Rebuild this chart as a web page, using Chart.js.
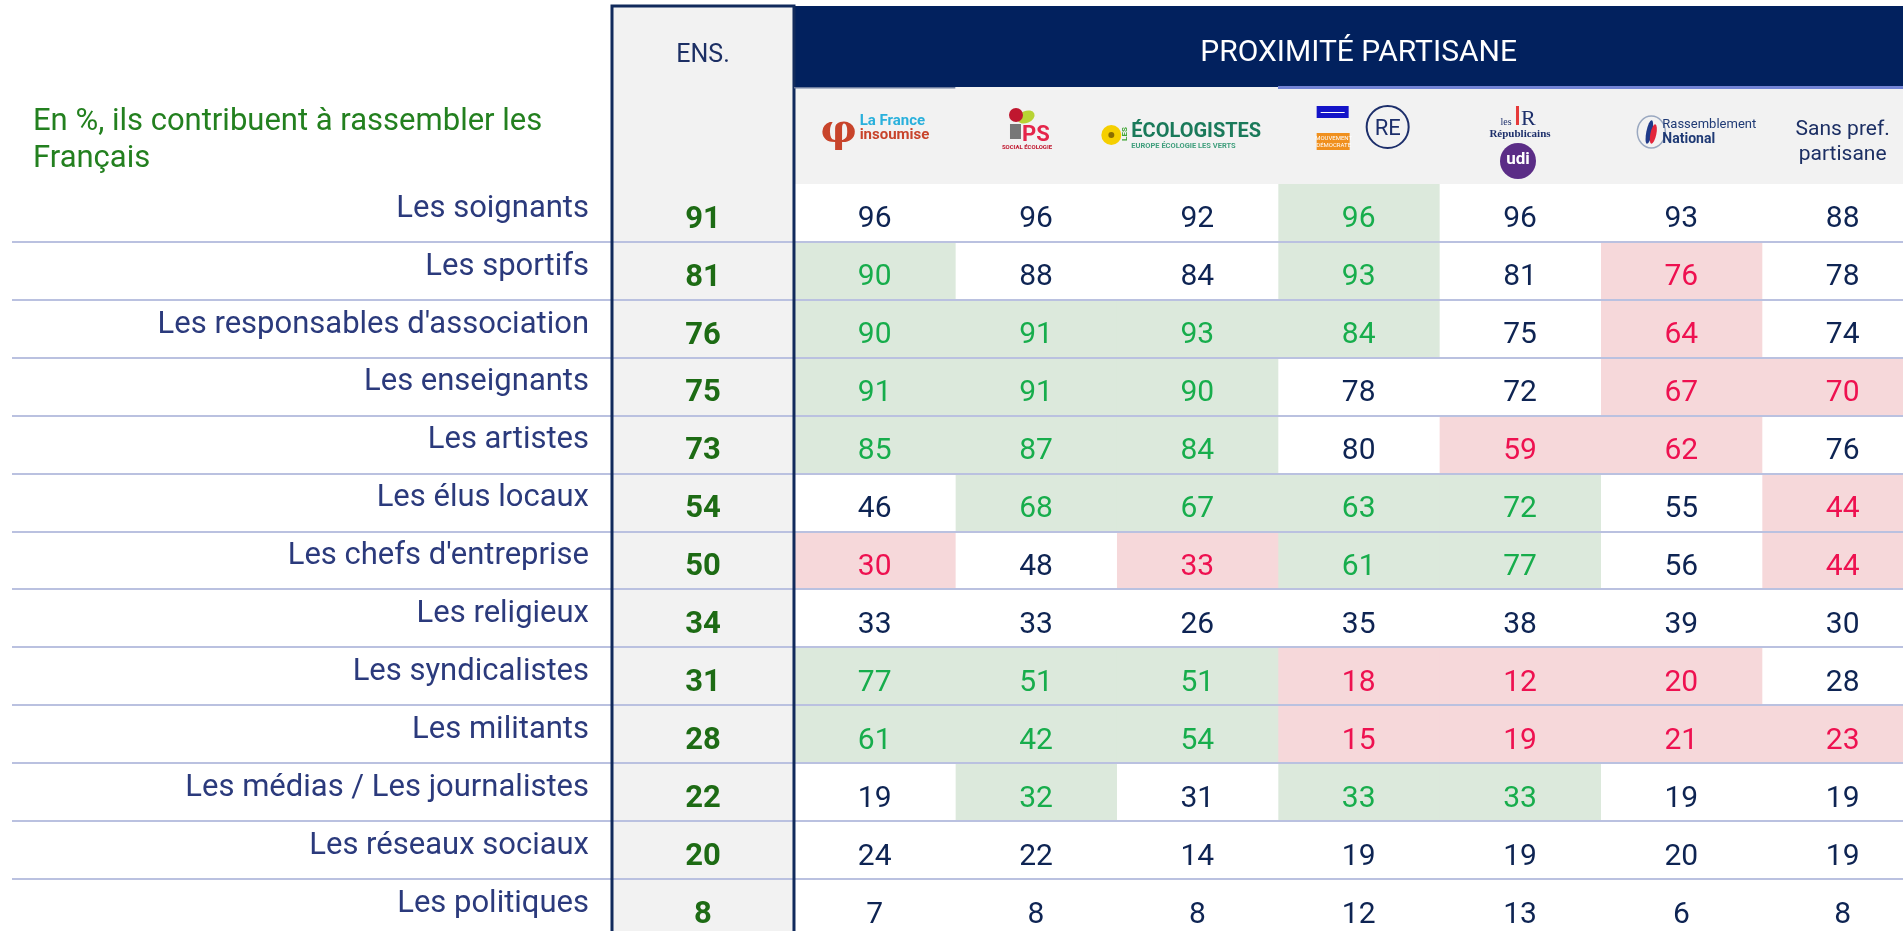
<!DOCTYPE html>
<html>
<head>
<meta charset="utf-8">
<script src="https://cdn.jsdelivr.net/npm/chart.js@4.4.1/dist/chart.umd.min.js"></script>
<style>
  html, body { margin: 0; padding: 0; background: #fff; overflow: hidden; }
  #wrap { width: 1903px; height: 931px; overflow: hidden; }
</style>
</head>
<body>
<div id="wrap"><canvas id="table" width="1903" height="937"></canvas></div>
<script>
// rows of the table
const rows = [
  "Les soignants", "Les sportifs", "Les responsables d'association", "Les enseignants",
  "Les artistes", "Les élus locaux", "Les chefs d'entreprise", "Les religieux",
  "Les syndicalistes", "Les militants", "Les médias / Les journalistes",
  "Les réseaux sociaux", "Les politiques"
];
// ENS. column
const ensemble = [91, 81, 76, 75, 73, 54, 50, 34, 31, 28, 22, 20, 8];
// party columns
const parties = ["La France insoumise", "PS", "Les Écologistes", "Ensemble",
  "LR / UDI", "Rassemblement National", "Sans pref. partisane"];
const scores = [
  [96, 96, 92, 96, 96, 93, 88],
  [90, 88, 84, 93, 81, 76, 78],
  [90, 91, 93, 84, 75, 64, 74],
  [91, 91, 90, 78, 72, 67, 70],
  [85, 87, 84, 80, 59, 62, 76],
  [46, 68, 67, 63, 72, 55, 44],
  [30, 48, 33, 61, 77, 56, 44],
  [33, 33, 26, 35, 38, 39, 30],
  [77, 51, 51, 18, 12, 20, 28],
  [61, 42, 54, 15, 19, 21, 23],
  [19, 32, 31, 33, 33, 19, 19],
  [24, 22, 14, 19, 19, 20, 19],
  [7, 8, 8, 12, 13, 6, 8]
];
// 1 = significantly above the average, -1 = below, 0 = no difference
const signif = [
  [0, 0, 0, 1, 0, 0, 0],
  [1, 0, 0, 1, 0, -1, 0],
  [1, 1, 1, 1, 0, -1, 0],
  [1, 1, 1, 0, 0, -1, -1],
  [1, 1, 1, 0, -1, -1, 0],
  [0, 1, 1, 1, 1, 0, -1],
  [-1, 0, -1, 1, 1, 0, -1],
  [0, 0, 0, 0, 0, 0, 0],
  [1, 1, 1, -1, -1, -1, 0],
  [1, 1, 1, -1, -1, -1, -1],
  [0, 1, 0, 1, 1, 0, 0],
  [0, 0, 0, 0, 0, 0, 0],
  [0, 0, 0, 0, 0, 0, 0]
];
const title = ["En %, ils contribuent à rassembler les", "Français"];

const FONT = "Roboto, 'Noto Sans', sans-serif";
const NAVY = "#02215e";
const GREEN_BG = "#dce9dc", GREEN_TXT = "#17ad4c";
const RED_BG = "#f6d8da", RED_TXT = "#ee1150";
const ENS_W = 1.128;   // the ENS. column is a bit wider than a party column
const X_MAX = 6.874;   // last column is cut by the page edge

function cellBg(r, c) {
  const s = signif[r][c];
  return s > 0 ? GREEN_BG : s < 0 ? RED_BG : "#ffffff";
}
function cellTxt(r, c) {
  const s = signif[r][c];
  return s > 0 ? GREEN_TXT : s < 0 ? RED_TXT : "#0e2453";
}

const datasets = [{
  label: "ENS.",
  data: rows.map(() => [-ENS_W, 0]),
  backgroundColor: "#f2f2f2"
}];
parties.forEach((p, c) => {
  datasets.push({
    label: p,
    data: rows.map(() => [c, c + 1]),
    backgroundColor: (ctx) => cellBg(ctx.dataIndex, c)
  });
});

function text(ctx, str, x, y, font, color, align, base) {
  ctx.font = font;
  ctx.fillStyle = color;
  ctx.textAlign = align || "center";
  ctx.textBaseline = base || "alphabetic";
  ctx.fillText(str, x, y);
}

// rough drawings of the party logos
function drawLogo(ctx, c, cx) {
  ctx.save();
  if (c === 0) {
    text(ctx, "φ", cx - 36, 142, "bold 40px 'DejaVu Serif', serif", "#c8442b");
    text(ctx, "La France", cx - 15, 125, "bold 15px " + FONT, "#29b0dc", "left");
    text(ctx, "insoumise", cx - 15, 139, "bold 15px " + FONT, "#c8442b", "left");
  } else if (c === 1) {
    ctx.fillStyle = "#b8d334";
    ctx.beginPath(); ctx.ellipse(cx - 10, 117, 9, 6, -0.4, 0, Math.PI * 2); ctx.fill();
    ctx.fillStyle = "#c0172f";
    ctx.beginPath(); ctx.arc(cx - 20, 115, 7, 0, Math.PI * 2); ctx.fill();
    ctx.fillStyle = "#777";
    ctx.fillRect(cx - 26, 124, 11, 15);
    text(ctx, "PS", cx - 14, 141, "bold 22px " + FONT, "#e5254a", "left");
    text(ctx, "SOCIAL ÉCOLOGIE", cx - 9, 149, "bold 6px " + FONT, "#c0172f");
  } else if (c === 2) {
    ctx.fillStyle = "#f5cf00";
    ctx.beginPath(); ctx.arc(cx - 86, 135, 10, 0, Math.PI * 2); ctx.fill();
    ctx.fillStyle = "#8a6d00";
    ctx.beginPath(); ctx.arc(cx - 86, 135, 3, 0, Math.PI * 2); ctx.fill();
    ctx.save();
    ctx.translate(cx - 70, 134);
    ctx.rotate(-Math.PI / 2);
    text(ctx, "LES", 0, 0, "bold 8px " + FONT, "#3fa535");
    ctx.restore();
    text(ctx, "ÉCOLOGISTES", cx - 66, 137, "bold 20px " + FONT, "#1a7a5a", "left");
    text(ctx, "EUROPE ÉCOLOGIE LES VERTS", cx - 66, 148, "bold 7.5px " + FONT, "#3f9e7c", "left");
  } else if (c === 3) {
    ctx.fillStyle = "#1414c8";
    ctx.fillRect(cx - 42, 106, 32, 12);
    ctx.fillStyle = "#fff";
    ctx.fillRect(cx - 38, 112, 24, 1);
    ctx.fillStyle = "#f0901e";
    ctx.fillRect(cx - 42, 133, 33, 17);
    text(ctx, "MOUVEMENT", cx - 25, 140, "6px " + FONT, "#fff");
    text(ctx, "DÉMOCRATE", cx - 25, 147, "6px " + FONT, "#fff");
    ctx.strokeStyle = "#1d2f6b";
    ctx.lineWidth = 2;
    ctx.beginPath(); ctx.arc(cx + 29, 127, 21, 0, Math.PI * 2); ctx.stroke();
    text(ctx, "RE", cx + 29, 135, "22px " + FONT, "#1d2f6b");
  } else if (c === 4) {
    text(ctx, "les", cx - 14, 125, "10px 'Liberation Serif', serif", "#1d2f6b");
    ctx.fillStyle = "#e63a3a";
    ctx.fillRect(cx - 4, 106, 3, 19);
    text(ctx, "R", cx + 1, 125, "22px 'Liberation Serif', serif", "#1d2f6b", "left");
    text(ctx, "Républicains", cx, 137, "bold 11px 'Liberation Serif', serif", "#1d2f6b");
    ctx.fillStyle = "#5b2d86";
    ctx.beginPath(); ctx.arc(cx - 2, 161, 18, 0, Math.PI * 2); ctx.fill();
    text(ctx, "udi", cx - 2, 164, "bold 17px " + FONT, "#fff");
  } else if (c === 5) {
    ctx.strokeStyle = "#9aa8c0";
    ctx.lineWidth = 1.5;
    ctx.beginPath(); ctx.ellipse(cx - 30, 132, 14, 16, 0, 0, Math.PI * 2); ctx.stroke();
    ctx.fillStyle = "#1f3a8a";
    ctx.beginPath(); ctx.ellipse(cx - 32, 132, 3, 12, 0.2, 0, Math.PI * 2); ctx.fill();
    ctx.fillStyle = "#e3263b";
    ctx.beginPath(); ctx.ellipse(cx - 28, 134, 3, 10, 0.2, 0, Math.PI * 2); ctx.fill();
    text(ctx, "Rassemblement", cx - 19, 128, "13px " + FONT, "#1f3a75", "left");
    text(ctx, "National", cx - 19, 143, "bold 14px " + FONT, "#1f3a75", "left");
  } else {
    text(ctx, "Sans pref.", cx, 135, "21px " + FONT, "#1c2f64");
    text(ctx, "partisane", cx, 160, "21px " + FONT, "#1c2f64");
  }
  ctx.restore();
}

const tablePlugin = {
  id: "tableDecor",
  beforeDatasetsDraw(chart) {
    const ctx = chart.ctx;
    const x = chart.scales.x;
    const ensL = x.getPixelForValue(-ENS_W), ensR = x.getPixelForValue(0);
    const top = chart.chartArea.top;
    ctx.save();
    ctx.fillStyle = "#f2f2f2";
    ctx.fillRect(ensL, 6, ensR - ensL, top - 6);
    ctx.fillStyle = NAVY;
    ctx.fillRect(ensR, 6, chart.width - ensR, 81);
    ctx.fillStyle = "#f2f2f2";
    ctx.fillRect(ensR, 87, chart.width - ensR, top - 87);
    ctx.restore();
  },
  afterDatasetsDraw(chart) {
    const ctx = chart.ctx;
    const x = chart.scales.x, y = chart.scales.y;
    ctx.save();

    // row separators
    ctx.strokeStyle = "#bac1e0";
    ctx.lineWidth = 2;
    for (let i = 0; i < rows.length - 1; i++) {
      const yy = Math.round((y.getPixelForValue(i) + y.getPixelForValue(i + 1)) / 2);
      ctx.beginPath();
      ctx.moveTo(12, yy);
      ctx.lineTo(chart.width, yy);
      ctx.stroke();
    }

    // cell values
    chart.data.datasets.forEach((ds, d) => {
      chart.getDatasetMeta(d).data.forEach((bar, i) => {
        const p = bar.getCenterPoint();
        if (d === 0) {
          text(ctx, String(ensemble[i]), p.x, p.y + 7, "bold 31px " + FONT, "#1d6b14", "center", "middle");
        } else {
          text(ctx, String(scores[i][d - 1]), p.x, p.y + 7, "30px " + FONT, cellTxt(i, d - 1), "center", "middle");
        }
      });
    });

    // ENS. column frame
    const ensL = x.getPixelForValue(-ENS_W), ensR = x.getPixelForValue(0);
    ctx.strokeStyle = "#112a5c";
    ctx.lineWidth = 3;
    ctx.beginPath();
    ctx.moveTo(ensL, chart.height);
    ctx.lineTo(ensL, 6);
    ctx.lineTo(ensR, 6);
    ctx.lineTo(ensR, chart.height);
    ctx.stroke();

    // thin lines under the header band
    ctx.fillStyle = "#6d7c9e";
    ctx.fillRect(ensR, 87, x.getPixelForValue(1) - ensR, 1.5);
    ctx.fillStyle = "#7384d6";
    ctx.fillRect(x.getPixelForValue(3), 86, chart.width - x.getPixelForValue(3), 3);

    // header texts
    text(ctx, "ENS.", (ensL + ensR) / 2, 62, "25px " + FONT, "#1c2f64");
    text(ctx, "PROXIMITÉ PARTISANE", x.getPixelForValue(3.5), 61, "30px " + FONT, "#ffffff");
    title.forEach((t, k) => text(ctx, t, 33, 130 + k * 37, "31px " + FONT, "#23801f", "left"));

    parties.forEach((p, c) => drawLogo(ctx, c, x.getPixelForValue(c + 0.5)));
    ctx.restore();
  }
};

new Chart(document.getElementById("table"), {
  type: "bar",
  data: { labels: rows, datasets: datasets },
  options: {
    responsive: false,
    animation: false,
    indexAxis: "y",
    layout: { padding: { top: 184, left: 0, right: 0, bottom: 0 } },
    datasets: { bar: { barPercentage: 1, categoryPercentage: 1, grouped: false, borderWidth: 0 } },
    scales: {
      x: { type: "linear", min: -ENS_W, max: X_MAX, display: false },
      y: {
        grid: { display: false, drawTicks: false, tickLength: 0 },
        border: { display: false },
        ticks: {
          autoSkip: false,
          padding: 23,
          labelOffset: -4,
          color: "#2b3a7c",
          font: { family: FONT, size: 31 }
        },
        afterFit(axis) {
          axis.width = 612;
          axis.paddingTop = 0;
          axis.paddingBottom = 0;
        }
      }
    },
    plugins: { legend: { display: false }, tooltip: { enabled: false } }
  },
  plugins: [tablePlugin]
});
</script>
</body>
</html>
